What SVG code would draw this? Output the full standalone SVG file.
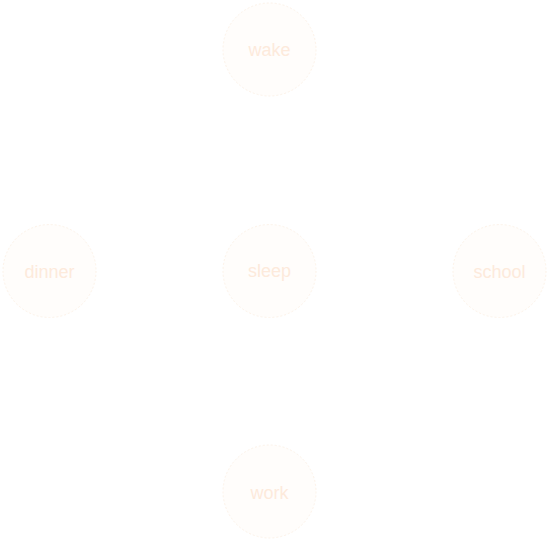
<svg xmlns="http://www.w3.org/2000/svg" width="548" height="542" viewBox="0 0 548 542">
<style>
.n circle{fill:#fffdfb;stroke:#fdf3e9;stroke-width:1;stroke-dasharray:2 2}
.n text{font-family:"Liberation Sans",Arial,sans-serif;font-size:18px;fill:#fdeadb;text-anchor:middle;font-weight:300}
</style>
<rect width="548" height="542" fill="#ffffff"/>
<g id="connectors"></g>
<g id="wake" class="n"><circle cx="269.5" cy="49.5" r="46.5"/><text x="269.5" y="56">wake</text></g>
<g id="sleep" class="n"><circle cx="269.5" cy="271" r="46.5"/><text x="269.5" y="276.5">sleep</text></g>
<g id="dinner" class="n"><circle cx="49.5" cy="271" r="46.5"/><text x="49.5" y="277.5">dinner</text></g>
<g id="school" class="n"><circle cx="499.5" cy="271" r="46.5"/><text x="499.5" y="277.5">school</text></g>
<g id="work" class="n"><circle cx="269.5" cy="491.5" r="46.5"/><text x="269.5" y="498.5">work</text></g>
</svg>
